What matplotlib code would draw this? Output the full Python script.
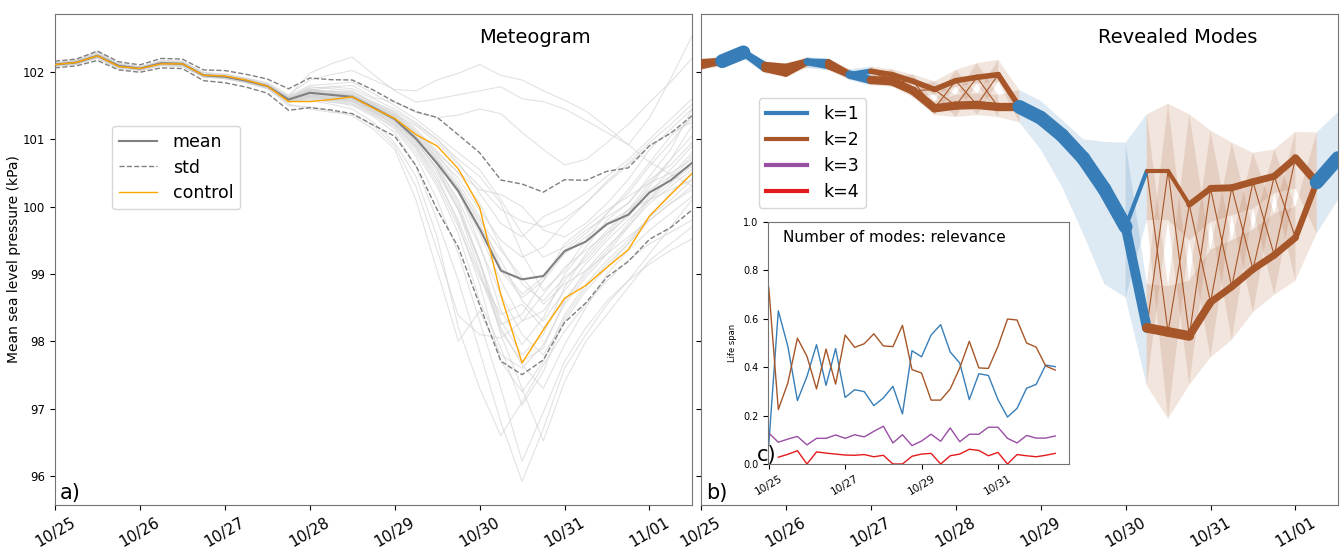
import numpy as np
import matplotlib
matplotlib.use("Agg")
import matplotlib.pyplot as plt

# 6-hourly steps from 10/25 00z to 11/01 12z (in days)
steps = np.arange(31) * 0.25
day_labels = ["10/25", "10/26", "10/27", "10/28", "10/29", "10/30", "10/31", "11/01"]

# ---- a) meteogram (kPa) ----
mean = [102.11, 102.14, 102.24, 102.09, 102.05, 102.13, 102.12, 101.95, 101.93, 101.87, 101.79,
        101.59, 101.69, 101.66, 101.63, 101.47, 101.30, 101.01, 100.64, 100.23, 99.67, 99.05,
        98.92, 98.97, 99.34, 99.48, 99.74, 99.88, 100.21, 100.39, 100.65]
std = [0.05, 0.05, 0.07, 0.06, 0.055, 0.07, 0.07, 0.08, 0.09, 0.095, 0.105, 0.16, 0.22, 0.225,
       0.25, 0.26, 0.255, 0.40, 0.685, 0.835, 1.13, 1.345, 1.415, 1.245, 1.06, 0.91, 0.785,
       0.695, 0.695, 0.70, 0.70]
control = [102.11, 102.14, 102.24, 102.08, 102.05, 102.12, 102.12, 101.95, 101.94, 101.88, 101.79,
           101.56, 101.56, 101.59, 101.63, 101.46, 101.31, 101.07, 100.90, 100.56, 99.99, 98.69,
           97.68, 98.17, 98.64, 98.83, 99.10, 99.36, 99.86, 100.18, 100.49]
members = [
    [102.13, 102.17, 102.29, 102.12, 102.07, 102.16, 102.15, 101.99, 101.97, 101.91, 101.84, 101.66, 101.88, 101.96, 102.02, 101.88, 101.74, 101.72, 101.88, 101.98, 102.11, 101.95, 101.88, 101.72, 101.58, 101.42, 101.18, 100.92, 100.66, 100.48, 100.31],
    [102.10, 102.13, 102.22, 102.07, 102.04, 102.12, 102.10, 101.94, 101.92, 101.86, 101.78, 101.63, 101.98, 102.12, 102.22, 101.96, 101.72, 101.55, 101.60, 101.66, 101.72, 101.78, 101.60, 101.56, 101.45, 101.28, 101.10, 100.92, 101.32, 101.90, 102.53],
    [102.09, 102.12, 102.21, 102.06, 102.03, 102.10, 102.09, 101.93, 101.90, 101.84, 101.76, 101.58, 101.72, 101.78, 101.80, 101.62, 101.55, 101.40, 101.32, 101.36, 101.45, 101.38, 101.10, 100.85, 100.62, 100.70, 100.95, 101.22, 101.55, 101.85, 102.20],
    [102.12, 102.15, 102.26, 102.10, 102.06, 102.14, 102.13, 101.96, 101.95, 101.90, 101.82, 101.63, 101.75, 101.70, 101.66, 101.52, 101.36, 101.20, 100.95, 100.62, 100.30, 99.96, 99.78, 99.70, 99.82, 100.05, 100.38, 100.65, 100.95, 101.22, 101.52],
    [102.10, 102.13, 102.23, 102.08, 102.04, 102.12, 102.11, 101.94, 101.91, 101.85, 101.76, 101.55, 101.60, 101.56, 101.50, 101.34, 101.10, 100.60, 99.80, 98.90, 97.85, 96.80, 95.92, 96.70, 97.60, 98.10, 98.55, 98.90, 99.30, 99.70, 100.10],
    [102.11, 102.14, 102.25, 102.09, 102.05, 102.12, 102.12, 101.95, 101.93, 101.86, 101.77, 101.56, 101.62, 101.58, 101.53, 101.38, 101.15, 100.75, 100.10, 99.30, 98.30, 97.30, 96.22, 96.95, 97.70, 98.20, 98.60, 98.90, 99.15, 99.35, 99.52],
    [102.12, 102.15, 102.26, 102.10, 102.06, 102.13, 102.12, 101.96, 101.94, 101.88, 101.80, 101.57, 101.58, 101.52, 101.45, 101.25, 100.95, 100.45, 99.55, 98.20, 97.30, 96.60, 97.10, 97.65, 98.15, 98.55, 98.90, 99.20, 99.45, 99.62, 99.80],
    [102.09, 102.12, 102.22, 102.07, 102.03, 102.11, 102.10, 101.93, 101.91, 101.85, 101.77, 101.58, 101.65, 101.62, 101.60, 101.45, 101.30, 101.02, 100.62, 100.05, 99.20, 98.10, 97.30, 96.52, 97.40, 98.00, 98.40, 98.80, 99.20, 99.45, 99.70],
    [102.13, 102.16, 102.27, 102.11, 102.06, 102.14, 102.13, 101.96, 101.93, 101.86, 101.76, 101.50, 101.48, 101.42, 101.35, 101.15, 100.85, 100.10, 99.05, 98.00, 98.45, 97.80, 97.60, 97.95, 98.55, 98.95, 99.30, 99.70, 100.10, 100.45, 100.80],
    [102.10, 102.13, 102.23, 102.08, 102.04, 102.12, 102.11, 101.94, 101.92, 101.86, 101.78, 101.52, 101.45, 101.40, 101.38, 101.20, 100.90, 100.30, 99.35, 98.38, 98.10, 98.05, 98.30, 98.70, 99.10, 99.35, 99.60, 99.85, 100.20, 100.55, 100.90],
    [102.11, 102.14, 102.24, 102.09, 102.05, 102.13, 102.12, 101.95, 101.93, 101.87, 101.79, 101.60, 101.70, 101.68, 101.64, 101.48, 101.32, 101.05, 100.70, 100.25, 99.45, 98.45, 97.95, 98.35, 99.00, 99.40, 99.80, 100.05, 100.40, 100.62, 100.95],
    [102.12, 102.15, 102.25, 102.10, 102.06, 102.14, 102.13, 101.96, 101.94, 101.88, 101.81, 101.62, 101.78, 101.75, 101.72, 101.55, 101.40, 101.15, 100.82, 100.50, 100.05, 99.40, 98.85, 98.60, 98.95, 99.20, 99.55, 99.90, 100.30, 100.70, 101.20],
    [102.08, 102.11, 102.20, 102.05, 102.02, 102.09, 102.08, 101.92, 101.90, 101.84, 101.75, 101.55, 101.66, 101.63, 101.60, 101.44, 101.28, 100.98, 100.55, 100.00, 99.15, 98.25, 98.40, 98.90, 99.45, 99.70, 99.95, 100.15, 100.35, 100.50, 100.70],
    [102.14, 102.18, 102.30, 102.13, 102.08, 102.17, 102.16, 101.99, 101.96, 101.90, 101.82, 101.64, 101.80, 101.82, 101.85, 101.68, 101.50, 101.30, 101.05, 100.80, 100.55, 100.10, 99.60, 99.25, 99.40, 99.65, 99.85, 100.05, 100.45, 100.85, 101.45],
    [102.10, 102.12, 102.22, 102.07, 102.03, 102.11, 102.10, 101.93, 101.91, 101.85, 101.77, 101.57, 101.64, 101.60, 101.56, 101.40, 101.22, 100.90, 100.45, 99.75, 98.85, 97.70, 97.25, 97.70, 98.40, 98.85, 99.20, 99.50, 99.85, 100.10, 100.40],
    [102.11, 102.15, 102.25, 102.09, 102.05, 102.13, 102.12, 101.95, 101.93, 101.87, 101.79, 101.58, 101.68, 101.65, 101.62, 101.46, 101.30, 101.00, 100.65, 100.20, 99.60, 98.90, 98.30, 98.45, 98.90, 99.25, 99.60, 99.95, 100.25, 100.45, 100.60],
    [102.09, 102.12, 102.21, 102.06, 102.03, 102.10, 102.09, 101.93, 101.91, 101.85, 101.77, 101.59, 101.70, 101.72, 101.70, 101.55, 101.42, 101.22, 101.00, 100.70, 100.45, 100.05, 99.30, 98.75, 99.05, 99.50, 99.90, 100.25, 100.65, 101.05, 101.30],
    [102.13, 102.16, 102.26, 102.11, 102.07, 102.15, 102.14, 101.97, 101.95, 101.89, 101.80, 101.61, 101.74, 101.70, 101.67, 101.50, 101.33, 101.04, 100.68, 100.28, 99.80, 99.35, 98.95, 98.55, 98.85, 99.05, 99.30, 99.55, 99.80, 100.05, 100.25],
    [102.10, 102.14, 102.24, 102.08, 102.05, 102.12, 102.11, 101.94, 101.92, 101.86, 101.78, 101.56, 101.60, 101.55, 101.52, 101.36, 101.18, 100.80, 100.30, 99.60, 98.60, 97.90, 97.05, 97.55, 98.35, 98.80, 99.15, 99.45, 99.80, 100.05, 100.30],
    [102.12, 102.14, 102.24, 102.09, 102.06, 102.14, 102.12, 101.96, 101.94, 101.88, 101.80, 101.62, 101.72, 101.68, 101.66, 101.52, 101.38, 101.12, 100.80, 100.50, 100.25, 100.18, 100.00, 99.65, 99.55, 99.75, 100.05, 100.40, 100.85, 101.15, 101.45],
    [102.11, 102.13, 102.23, 102.08, 102.04, 102.12, 102.11, 101.95, 101.92, 101.86, 101.78, 101.57, 101.63, 101.60, 101.58, 101.42, 101.25, 100.92, 100.50, 99.95, 99.05, 98.20, 97.65, 97.30, 97.95, 98.50, 99.00, 99.35, 99.65, 99.90, 100.15],
    [102.12, 102.16, 102.27, 102.11, 102.06, 102.14, 102.13, 101.96, 101.94, 101.88, 101.80, 101.60, 101.67, 101.64, 101.62, 101.48, 101.34, 101.08, 100.75, 100.42, 99.95, 99.50, 99.25, 99.40, 99.75, 100.05, 100.35, 100.62, 100.90, 101.10, 101.25],
    [102.11, 102.15, 102.25, 102.10, 102.05, 102.13, 102.13, 101.96, 101.93, 101.87, 101.79, 101.60, 101.66, 101.62, 101.60, 101.45, 101.27, 100.95, 100.58, 100.10, 99.40, 98.70, 98.10, 97.80, 98.30, 98.75, 99.10, 99.45, 99.85, 100.20, 100.50],
    [102.10, 102.13, 102.23, 102.08, 102.04, 102.11, 102.11, 101.94, 101.92, 101.86, 101.78, 101.58, 101.73, 101.71, 101.69, 101.53, 101.37, 101.10, 100.78, 100.35, 99.85, 99.10, 98.70, 98.95, 99.35, 99.60, 99.90, 100.20, 100.60, 100.95, 101.35],
    [102.12, 102.15, 102.25, 102.09, 102.05, 102.14, 102.12, 101.95, 101.93, 101.87, 101.79, 101.58, 101.62, 101.58, 101.55, 101.40, 101.20, 100.85, 100.35, 99.70, 98.95, 98.40, 98.55, 98.20, 98.60, 99.05, 99.40, 99.70, 100.05, 100.30, 100.55],
    [102.13, 102.16, 102.26, 102.10, 102.06, 102.13, 102.13, 101.96, 101.94, 101.88, 101.80, 101.61, 101.76, 101.78, 101.75, 101.60, 101.45, 101.25, 101.00, 100.65, 100.20, 99.75, 99.55, 99.85, 100.00, 100.20, 100.45, 100.70, 101.00, 101.30, 101.60],
    [102.09, 102.13, 102.23, 102.07, 102.04, 102.12, 102.10, 101.94, 101.92, 101.86, 101.78, 101.57, 101.63, 101.60, 101.57, 101.41, 101.23, 100.88, 100.40, 99.80, 99.00, 98.15, 97.70, 97.90, 98.60, 99.00, 99.35, 99.75, 100.15, 100.40, 100.75],
    [102.11, 102.14, 102.24, 102.09, 102.05, 102.13, 102.12, 101.95, 101.93, 101.87, 101.79, 101.59, 101.69, 101.66, 101.63, 101.47, 101.31, 101.02, 100.66, 100.22, 99.70, 99.20, 98.60, 98.30, 98.75, 99.15, 99.50, 99.80, 100.10, 100.35, 100.60],
    [102.12, 102.15, 102.25, 102.10, 102.06, 102.13, 102.12, 101.95, 101.93, 101.87, 101.80, 101.62, 101.71, 101.67, 101.65, 101.50, 101.35, 101.08, 100.72, 100.30, 99.75, 99.05, 98.65, 98.90, 99.30, 99.55, 99.75, 99.95, 100.10, 100.25, 100.40],
    [102.10, 102.14, 102.24, 102.08, 102.05, 102.12, 102.11, 101.95, 101.92, 101.86, 101.78, 101.58, 101.64, 101.61, 101.58, 101.43, 101.26, 100.96, 100.55, 99.95, 99.20, 98.30, 97.80, 98.10, 98.80, 99.30, 99.65, 99.95, 100.35, 100.70, 101.05],
]

# ---- c) life span of each number of modes ----
life_k1 = [0.08, 0.633, 0.486, 0.262, 0.362, 0.493, 0.325, 0.477, 0.275, 0.307, 0.299, 0.241, 0.273,
           0.321, 0.207, 0.468, 0.443, 0.533, 0.576, 0.463, 0.417, 0.266, 0.373, 0.366, 0.266, 0.194,
           0.23, 0.313, 0.329, 0.409, 0.402]
life_k2 = [0.73, 0.225, 0.335, 0.52, 0.445, 0.31, 0.475, 0.33, 0.533, 0.482, 0.497, 0.538, 0.488,
           0.485, 0.573, 0.39, 0.376, 0.264, 0.264, 0.31, 0.397, 0.507, 0.397, 0.395, 0.486, 0.599,
           0.595, 0.5, 0.483, 0.405, 0.388]
life_k3 = [0.128, 0.09, 0.103, 0.114, 0.079, 0.106, 0.106, 0.12, 0.106, 0.121, 0.112, 0.135, 0.156,
           0.087, 0.121, 0.076, 0.095, 0.123, 0.094, 0.149, 0.092, 0.123, 0.123, 0.152, 0.152, 0.106,
           0.087, 0.118, 0.107, 0.107, 0.116]
life_k4 = [np.nan, 0.028, 0.04, 0.055, 0.0, 0.05, 0.045, 0.041, 0.037, 0.036, 0.039, 0.03, 0.036,
           0.0, 0.0, 0.032, 0.041, 0.044, 0.0, 0.034, 0.041, 0.061, 0.056, 0.034, 0.048, 0.0, 0.039,
           0.034, 0.03, 0.036, 0.044]

# ---- b) revealed modes: upper (or single) mode and lower mode ----
mode_hi = [102.14, 102.16, 102.29, 102.10, 102.07, 102.15, 102.14, 101.96, 102.01, 101.96, 101.86,
           101.74, 101.87, 101.92, 101.96, 101.48, 101.32, 101.06, 100.72, 100.26, 99.70, 100.53,
           100.53, 100.03, 100.27, 100.28, 100.37, 100.45, 100.72, 100.36, 100.72]
hi_top = [102.19, 102.23, 102.36, 102.15, 102.13, 102.22, 102.20, 102.04, 102.08, 102.04, 101.96,
          101.86, 102.03, 102.13, 102.18, 101.73, 101.57, 101.29, 101.00, 100.96, 100.95, 101.37,
          101.53, 101.37, 101.13, 100.95, 100.80, 100.85, 101.11, 101.10, 101.40]
hi_bot = [102.08, 102.08, 102.20, 102.04, 102.01, 102.06, 102.08, 101.88, 101.95, 101.90, 101.80,
          101.66, 101.78, 101.83, 101.85, 101.25, 100.85, 100.30, 99.60, 98.85, 98.65, 99.80,
          99.80, 99.50, 99.77, 99.87, 99.97, 100.20, 100.27, 99.60, 100.10]
mode_lo = [102.09, np.nan, np.nan, 102.05, 101.98, np.nan, 102.09, np.nan, 101.88, 101.86, 101.72,
           101.46, 101.50, 101.51, 101.48, np.nan, np.nan, np.nan, np.nan, np.nan, np.nan, 98.20,
           98.14, 98.08, 98.58, 98.81, 99.07, 99.28, 99.54, np.nan, np.nan]
lo_top = [102.14, np.nan, np.nan, 102.10, 102.04, np.nan, 102.14, np.nan, 101.94, 101.92, 101.78,
          101.56, 101.66, 101.68, 101.66, np.nan, np.nan, np.nan, np.nan, np.nan, np.nan, 98.85,
          98.82, 98.90, 99.36, 99.50, 99.66, 99.90, 100.00, np.nan, np.nan]
lo_bot = [102.03, np.nan, np.nan, 101.98, 101.92, np.nan, 102.02, np.nan, 101.80, 101.78, 101.62,
          101.36, 101.33, 101.36, 101.33, np.nan, np.nan, np.nan, np.nan, np.nan, np.nan, 97.34,
          96.85, 97.35, 97.76, 98.02, 98.43, 98.69, 98.90, np.nan, np.nan]
# members in each mode (out of 50)
n_hi = [25, 50, 50, 25, 25, 50, 25, 50, 20, 20, 20, 20, 20, 20, 20, 50, 50, 50, 50, 50, 50, 15,
        15, 22, 25, 25, 25, 25, 28, 50, 50]
n_lo = [25, 0, 0, 25, 25, 0, 25, 0, 30, 30, 30, 30, 30, 30, 30, 0, 0, 0, 0, 0, 0, 35, 35, 28, 25,
        25, 25, 25, 22, 0, 0]

blue, brown, purple, red = "#377eb8", "#a65628", "#984ea3", "#e41a1c"
mode_colors = {1: blue, 2: brown}

plt.rcParams["axes.edgecolor"] = "0.45"

fig = plt.figure(figsize=(13.41, 5.47), dpi=100)
ax1 = fig.add_axes([0.041, 0.0768, 0.475, 0.8976])
ax2 = fig.add_axes([0.5227, 0.0768, 0.475, 0.8976], sharey=ax1)

# ---------------- a) ----------------
for m in members:
    ax1.plot(steps, m, color="lightgrey", lw=0.8, alpha=0.65, zorder=1)
mean_a = np.array(mean)
std_a = np.array(std)
ax1.plot(steps, mean_a, color="grey", lw=1.5, label="mean", zorder=4)
ax1.plot(steps, mean_a + std_a, color="grey", lw=1.0, ls="--", label="std", zorder=3)
ax1.plot(steps, mean_a - std_a, color="grey", lw=1.0, ls="--", zorder=3)
ax1.plot(steps, control, color="orange", lw=1.0, label="control", zorder=5)
ax1.legend(loc="upper left", bbox_to_anchor=(0.076, 0.79), fontsize=12.5,
           handlelength=2.2, handletextpad=0.9, labelspacing=0.45)
ax1.text(0.754, 0.953, "Meteogram", transform=ax1.transAxes, ha="center", va="center",
         fontsize=14)
ax1.text(0.008, 0.005, "a)", transform=ax1.transAxes, ha="left", va="bottom", fontsize=15)
ax1.set_ylabel("Mean sea level pressure (kPa)", fontsize=10, labelpad=1)
ax1.set_ylim(95.57, 102.86)
ax1.set_yticks([96, 97, 98, 99, 100, 101, 102])
ax1.tick_params(axis="y", labelsize=8.5)

# ---------------- b) ----------------
# number of modes kept at each step = the most relevant one
k = np.nanargmax(np.vstack([life_k1, life_k2, life_k3, life_k4]), axis=0) + 1
lw_per_member = 0.2


def modes_at(t):
    out = [(mode_hi[t], hi_top[t], hi_bot[t], n_hi[t])]
    if k[t] == 2:
        out.append((mode_lo[t], lo_top[t], lo_bot[t], n_lo[t]))
    return out


for t in range(len(steps) - 1):
    x0, x1 = steps[t], steps[t + 1]
    c = mode_colors[k[t]]
    src, dst = modes_at(t), modes_at(t + 1)
    for s in src:
        for d in dst:
            ax2.fill([x0, x0, x1, x1], [s[2], s[1], d[1], d[2]], color=c,
                     alpha=0.17 if k[t] == 1 else 0.15, lw=0, zorder=1)
    if k[t] == 1:
        for d in dst:
            w = d[3] if len(dst) == 2 else src[0][3]
            ax2.plot([x0, x1], [src[0][0], d[0]], color=c, lw=w * lw_per_member,
                     solid_capstyle="round", zorder=3)
    elif len(dst) == 1:
        for s in src:
            ax2.plot([x0, x1], [s[0], dst[0][0]], color=c, lw=s[3] * lw_per_member,
                     solid_capstyle="round", zorder=3)
    else:
        for s, d in zip(src, dst):
            ax2.plot([x0, x1], [s[0], d[0]], color=c, lw=s[3] * lw_per_member,
                     solid_capstyle="round", zorder=3)
        ax2.plot([x0, x1], [src[0][0], dst[1][0]], color=c, lw=0.8, zorder=2)
        ax2.plot([x0, x1], [src[1][0], dst[0][0]], color=c, lw=0.8, zorder=2)

for kk, c in zip([1, 2, 3, 4], [blue, brown, purple, red]):
    ax2.plot([], [], color=c, lw=3, label=f"k={kk}")
ax2.legend(loc="upper left", bbox_to_anchor=(0.077, 0.846), fontsize=12.5,
           handlelength=2.4, handletextpad=0.9, labelspacing=0.45)
ax2.text(0.749, 0.953, "Revealed Modes", transform=ax2.transAxes, ha="center", va="center",
         fontsize=14)
ax2.text(0.008, 0.005, "b)", transform=ax2.transAxes, ha="left", va="bottom", fontsize=15)
ax2.tick_params(axis="y", labelleft=False)

for ax in (ax1, ax2):
    ax.set_xlim(0, 7.5)
    ax.set_xticks(range(len(day_labels)))
    ax.set_xticklabels(day_labels, rotation=30, fontsize=11)

# ---------------- c) inset ----------------
ax3 = fig.add_axes([768 / 1341, 1 - 464 / 547, 301 / 1341, 242 / 547])
ax3.plot(steps, life_k1, color=blue, lw=1)
ax3.plot(steps, life_k2, color=brown, lw=1)
ax3.plot(steps, life_k3, color=purple, lw=1)
ax3.plot(steps, life_k4, color=red, lw=1)
ax3.set_xlim(-0.02, 7.86)
ax3.set_ylim(0, 1.0)
ax3.set_xticks([0, 2, 4, 6])
ax3.set_xticklabels(day_labels[::2], rotation=30, fontsize=7.5)
ax3.tick_params(axis="y", labelsize=7)
ax3.set_ylabel("Life span", fontsize=6)
ax3.text(0.42, 0.935, "Number of modes: relevance", transform=ax3.transAxes, ha="center",
         va="center", fontsize=11)
fig.text(757 / 1341, 1 - 465 / 547, "c)", ha="left", va="bottom", fontsize=15)

fig.savefig("out.png", dpi=100)
